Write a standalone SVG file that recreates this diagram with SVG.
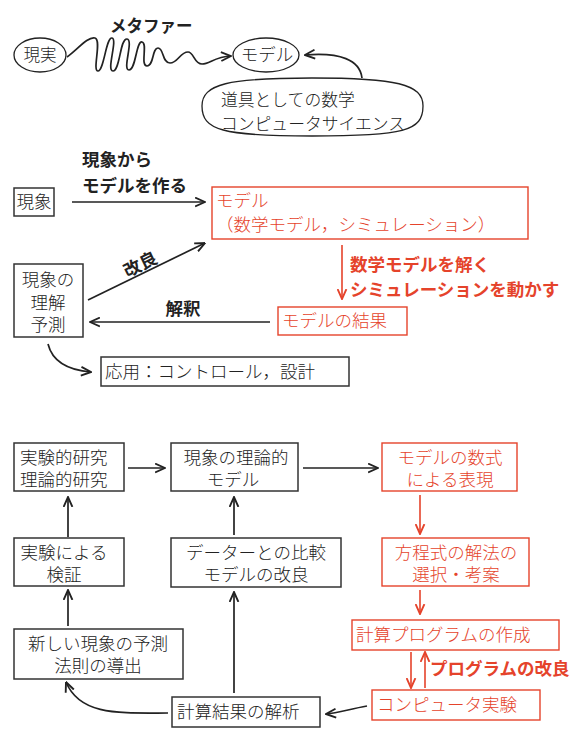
<svg xmlns="http://www.w3.org/2000/svg" width="586" height="746" viewBox="0 0 586 746">
<defs>
<marker id="ab" viewBox="0 0 10 10" refX="9.5" refY="5" markerWidth="11" markerHeight="11" markerUnits="userSpaceOnUse" orient="auto"><path d="M0.5,1 L9.5,5 L0.5,9" fill="none" stroke="#222" stroke-width="1.7"/></marker>
<marker id="ar" viewBox="0 0 10 10" refX="9.5" refY="5" markerWidth="11" markerHeight="11" markerUnits="userSpaceOnUse" orient="auto"><path d="M0.5,1 L9.5,5 L0.5,9" fill="none" stroke="#e5432b" stroke-width="1.7"/></marker>
</defs>
<style>
text{font-family:"Liberation Sans","Noto Sans CJK JP",sans-serif;font-size:17.5px;fill:#222;font-weight:300}
.r text,text.r{fill:#e5432b}
.lb{font-weight:700}
.c{text-anchor:middle}
.bx{fill:#fff;stroke:#333;stroke-width:1.5}
.rb{fill:#fff;stroke:#e5432b;stroke-width:1.4}
.el{fill:#fff;stroke:#222;stroke-width:1.3}
.ln{fill:none;stroke:#222;stroke-width:1.7;marker-end:url(#ab)}
.rl{fill:none;stroke:#e5432b;stroke-width:1.6;marker-end:url(#ar)}
</style>
<rect width="586" height="746" fill="#fff"/>

<g id="connectors">
<path class="ln" d="M67 57 C77 50,88 36,95 38 C102 40,92 71,98 71 C104 71,106 37,112 38 C118 39,106 71,113 71 C120 71,120 38,127 39 C134 40,122 70,129 70 C136 70,136 41,142 42 C148 43,140 66,147 66 C154 66,152 48,158 48 C164 48,162 63,170 63 C178 63,180 52,188 52 C194 52,194 64,202 64 C210 64,214 57,231 56"/>
<path class="ln" d="M362 78 C360 60,340 52,305 55"/>
<path class="ln" d="M72 202 L205 202"/>
<path class="ln" d="M88 300 L205 243"/>
<path class="rl" d="M342 245 L342 299"/>
<path class="ln" d="M270 322 L90 322"/>
<path class="ln" d="M48 344 C52 360,66 370,91 372"/>
<path class="ln" d="M128 468 L165 468"/>
<path class="ln" d="M303 468 L378 468"/>
<path class="rl" d="M420 495 L420 534"/>
<path class="rl" d="M420 590 L420 614"/>
<path class="rl" d="M411 652 L411 688"/>
<path class="rl" d="M425 688 L425 652"/>
<path class="ln" d="M68 537 L68 497"/>
<path class="ln" d="M68 626 L68 590"/>
<path class="ln" d="M234 535 L234 497"/>
<path class="ln" d="M234 693 L234 592"/>
<path class="ln" d="M367 706 C350 709,338 713,326 714"/>
<path class="ln" d="M168 713 C120 713,80 716,66 682"/>
</g>

<g id="label-metaphor"><text class="lb" x="110" y="32" style="font-size:16.5px">メタファー</text></g>
<g id="n-genjitsu"><ellipse class="el" cx="40" cy="55" rx="26" ry="17"/><text class="c" x="40" y="61" style="font-size:16.5px">現実</text></g>
<g id="n-model-top"><ellipse class="el" cx="266" cy="55" rx="33" ry="17"/><text class="c" x="267" y="61">モデル</text></g>
<g id="n-tools"><path class="el" d="M312 78 C396 78,423 84,423 106 C423 131,404 136,312 136 C222 136,202 130,202 106 C202 84,228 78,312 78 Z"/><text style="font-size:16.8px"><tspan x="221" y="106">道具としての数学</tspan><tspan x="221" y="130">コンピュータサイエンス</tspan></text></g>

<g id="n-genshou"><rect class="bx" x="14" y="188" width="40" height="28"/><text class="c" x="34" y="208">現象</text></g>
<g id="label-make"><text class="lb"><tspan x="82" y="166">現象から</tspan><tspan x="82" y="192">モデルを作る</tspan></text></g>
<g id="n-model" class="r"><rect class="rb" x="212" y="187" width="316" height="52"/><text><tspan x="216" y="207">モデル</tspan><tspan x="216" y="231">（数学モデル，シミュレーション）</tspan></text></g>
<g id="label-solve" class="r"><text class="lb"><tspan x="350" y="271">数学モデルを解く</tspan><tspan x="350" y="296">シミュレーションを動かす</tspan></text></g>
<g id="n-result" class="r"><rect class="rb" x="278" y="307" width="129" height="28"/><text x="282" y="327">モデルの結果</text></g>
<g id="label-interp"><text class="lb c" x="183" y="315">解釈</text></g>
<g id="label-improve"><text class="lb c" transform="translate(143,270) rotate(-26)">改良</text></g>
<g id="n-understand"><rect class="bx" x="14" y="264" width="69" height="73"/><text class="c"><tspan x="48" y="286">現象の</tspan><tspan x="48" y="309">理解</tspan><tspan x="48" y="331">予測</tspan></text></g>
<g id="n-apply"><rect class="bx" x="101" y="357" width="248" height="29"/><text x="105" y="378">応用：コントロール，設計</text></g>

<g id="n-research"><rect class="bx" x="14" y="443" width="110" height="48"/><text><tspan x="20" y="464">実験的研究</tspan><tspan x="20" y="486">理論的研究</tspan></text></g>
<g id="n-theory"><rect class="bx" x="171" y="443" width="127" height="48"/><text class="c"><tspan x="236" y="464">現象の理論的</tspan><tspan x="233" y="486">モデル</tspan></text></g>
<g id="n-formula" class="r"><rect class="rb" x="382" y="443" width="135" height="48"/><text class="c"><tspan x="450" y="464">モデルの数式</tspan><tspan x="450" y="486">による表現</tspan></text></g>
<g id="n-verify"><rect class="bx" x="14" y="538" width="110" height="48"/><text class="c"><tspan x="64" y="559">実験による</tspan><tspan x="64" y="581">検証</tspan></text></g>
<g id="n-compare"><rect class="bx" x="171" y="538" width="170" height="49"/><text class="c"><tspan x="256" y="559">データーとの比較</tspan><tspan x="256" y="581">モデルの改良</tspan></text></g>
<g id="n-solver" class="r"><rect class="rb" x="382" y="538" width="147" height="48"/><text class="c"><tspan x="456" y="559">方程式の解法の</tspan><tspan x="456" y="581">選択・考案</tspan></text></g>
<g id="n-program" class="r"><rect class="rb" x="352" y="620" width="207" height="30"/><text x="356" y="641">計算プログラムの作成</text></g>
<g id="label-progimprove" class="r"><text class="lb" x="430" y="675">プログラムの改良</text></g>
<g id="n-predict"><rect class="bx" x="14" y="629" width="169" height="50"/><text class="c"><tspan x="98" y="650">新しい現象の予測</tspan><tspan x="98" y="672">法則の導出</tspan></text></g>
<g id="n-experiment" class="r"><rect class="rb" x="372" y="690" width="168" height="30"/><text x="377" y="711">コンピュータ実験</text></g>
<g id="n-analysis"><rect class="bx" x="172" y="697" width="148" height="30"/><text x="177" y="718">計算結果の解析</text></g>
</svg>
